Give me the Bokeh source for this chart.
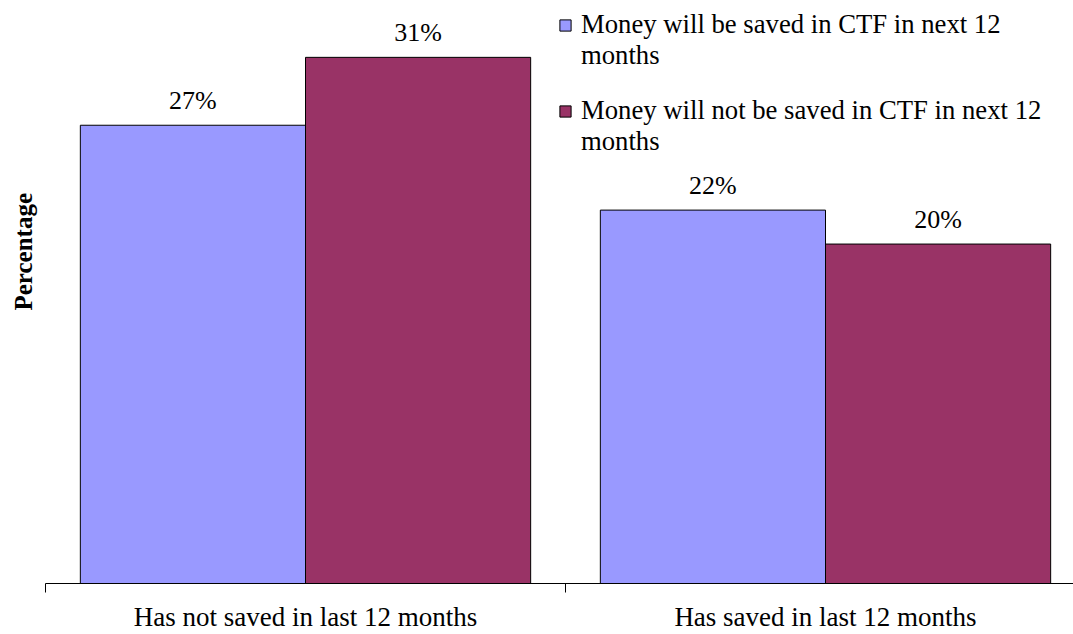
from bokeh.plotting import figure
from bokeh.models import Range1d, FixedTicker, LinearAxis, Title, Legend, LegendItem, ColumnDataSource
from bokeh.embed import file_html
from bokeh.resources import INLINE
from bokeh.core.properties import value

categories = ["Has not saved in last 12 months", "Has saved in last 12 months"]
series_first_lines = ["Money will be saved in CTF in next 12",
                      "Money will not be saved in CTF in next 12"]
series_second_line = "months"
saved_next = [27, 22]
not_saved_next = [31, 20]
colors = ["#9999FF", "#993366"]

FONT = "Liberation Serif"
PX_PER_CAT = 520
FRAME_W = 1028
BAR_W = 0.433
FS = "26.7px"

p = figure(width=1073, height=634, output_backend="svg", toolbar_location=None,
           x_range=Range1d(0, FRAME_W / PX_PER_CAT), y_range=Range1d(0, 34.35),
           x_axis_location=None, y_axis_location=None,
           min_border_left=45, min_border_right=0, min_border_top=0, min_border_bottom=51)
p.outline_line_color = None
p.xgrid.visible = False
p.ygrid.visible = False

bar_renderers = []
for k, (vals, col) in enumerate(zip([saved_next, not_saved_next], colors)):
    xs = [i + 0.5 + (k - 0.5) * BAR_W for i in range(len(categories))]
    src = ColumnDataSource(dict(x=xs, top=vals, lab=[f"{v}%" for v in vals]))
    r = p.vbar(x="x", top="top", width=BAR_W, bottom=0, source=src,
               fill_color=col, line_color="black", line_width=1)
    p.text(x="x", y="top", text="lab", source=src, text_align="center",
           text_baseline="alphabetic", y_offset=-25, text_font=value(FONT),
           text_font_size="26px", text_color="black")
    bar_renderers.append(r)

ax = LinearAxis(ticker=FixedTicker(ticks=[0.5, 1.5], minor_ticks=[0, 1, 2]))
ax.major_tick_out = 0
ax.major_tick_in = 0
ax.minor_tick_out = 9
ax.minor_tick_in = 0
ax.minor_tick_line_color = "black"
ax.axis_line_color = "black"
ax.major_label_overrides = {0.5: categories[0], 1.5: categories[1]}
ax.major_label_text_font = FONT
ax.major_label_text_font_size = "27px"
ax.major_label_text_color = "black"
ax.major_label_standoff = 9
p.add_layout(ax, "below")

t = Title(text="Percentage", align="left", vertical_align="middle", text_font=FONT,
          text_font_size="25px", text_font_style="bold", text_color="black",
          offset=273, standoff=16)
p.add_layout(t, "left")

legend_y = [512, 426]
for k, r in enumerate(bar_renderers):
    dummy = p.vbar(x=[], top=[], width=BAR_W, fill_alpha=0, line_alpha=0)
    leg = Legend(items=[LegendItem(label=series_first_lines[k], renderers=[r]),
                        LegendItem(label=series_second_line, renderers=[dummy])],
                 location=(513, legend_y[k]), border_line_color=None,
                 background_fill_alpha=0, padding=0, margin=0, spacing=0,
                 glyph_width=14, glyph_height=14, label_standoff=9, label_height=31,
                 label_text_font=FONT, label_text_font_size=FS,
                 label_text_color="black")
    p.add_layout(leg)

open("out.html", "w").write(file_html(p, INLINE))
